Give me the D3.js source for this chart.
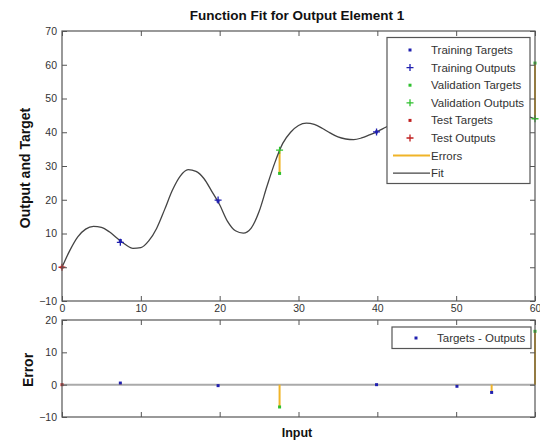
<!DOCTYPE html>
<html lang="en">
<head>
<meta charset="UTF-8">
<title>Function Fit</title>
<script src="https://cdn.jsdelivr.net/npm/d3@7"></script>
<style>
  body { margin: 0; background: #fff; }
  svg { font-family: "Liberation Sans", Arial, sans-serif; }
  .axis text { font-size: 10.5px; fill: #333; }
  .axis line { stroke: #555; }
  .axis path { stroke: none; }
  .frame { fill: none; stroke: #555; stroke-width: 1.2; }
  .lbl { font-weight: bold; fill: #111; }
  .leg text { font-size: 11.5px; fill: #333; }
</style>
</head>
<body>
<svg id="chart" width="540" height="441"></svg>
<script>
// fit curve
var fitX = [0,1,2,3,4,5,6,7,8,9,10,11,12,13,14,15,16,17,18,19,20,21,22,23,24,25,26,27,28,29,30,
            31,32,33,34,35,36,37,38,39,40,41,42,43,44,45,46,47,48,49,50,51,52,53,54,55,56,57,58,59,60];
var fitY = [0,5,9,11.3,12.1,11.8,10.5,8.6,6.8,5.6,5.8,7.8,11.5,17,22.8,27,28.9,28.4,26.3,22.5,18.5,13.6,10.8,10.1,11.6,16.5,24,31,36.7,40,42,
            42.7,42.3,41.2,39.8,38.6,38,37.8,38.3,39.2,40.2,41.4,42.6,43.8,45,46,46.9,47.6,48.1,48.5,48.8,49,49,48.8,48.5,48,47.3,46.5,45.6,44.8,44];

// samples
var trainX = [7.4, 19.8, 39.9, 50.1, 54.5];
var trainTargets = [7.9, 19.6, 40.1, 48.3, 46.0];
var trainOutputs = [7.4, 19.9, 40.1, 48.8, 48.4];

var valX = [27.6, 60];
var valTargets = [27.8, 60.5];
var valOutputs = [34.7, 44];

var testX = [0];
var testTargets = [0];
var testOutputs = [0];

var xTicks = [0, 10, 20, 30, 40, 50, 60];
var yTicksTop = [-10, 0, 10, 20, 30, 40, 50, 60, 70];
var yTicksBottom = [-10, 0, 10, 20];

var legendTop = ["Training Targets", "Training Outputs", "Validation Targets", "Validation Outputs",
                 "Test Targets", "Test Outputs", "Errors", "Fit"];

var cBlue = "#2020b0", cGreen = "#2ec02e", cRed = "#c02020", cOrange = "#f0b428", cFit = "#444";

var svg = d3.select("#chart");

var L = 62, R = 535;
var x = d3.scaleLinear().domain([0, 60]).range([L, R]);
var yTop = d3.scaleLinear().domain([-10, 70]).range([301, 31]);
var yBot = d3.scaleLinear().domain([-10, 20]).range([417, 320]);

function frame(y) {
  var r = y.range();
  // ticks inward on four sides
  svg.append("g").attr("class", "axis").attr("transform", "translate(0," + r[0] + ")")
    .call(d3.axisBottom(x).tickValues(xTicks).tickSizeInner(-5).tickSizeOuter(0).tickPadding(4)
      .tickFormat(y === yTop ? d3.format("d") : ""));
  svg.append("g").attr("class", "axis").attr("transform", "translate(0," + r[1] + ")")
    .call(d3.axisTop(x).tickValues(xTicks).tickSizeInner(-5).tickSizeOuter(0).tickFormat(""));
  svg.append("g").attr("class", "axis").attr("transform", "translate(" + L + ",0)")
    .call(d3.axisLeft(y).tickValues(y === yTop ? yTicksTop : yTicksBottom)
      .tickSizeInner(-5).tickSizeOuter(0).tickPadding(5));
  svg.append("g").attr("class", "axis").attr("transform", "translate(" + R + ",0)")
    .call(d3.axisRight(y).tickValues(y === yTop ? yTicksTop : yTicksBottom)
      .tickSizeInner(-5).tickSizeOuter(0).tickFormat(""));
}

function plus(g, cx, cy, color) {
  g.append("path")
    .attr("d", "M" + (cx - 3.5) + "," + cy + "H" + (cx + 3.5) + "M" + cx + "," + (cy - 3.5) + "V" + (cy + 3.5))
    .attr("stroke", color).attr("stroke-width", 1.3).attr("fill", "none");
}
function dot(g, cx, cy, color) {
  g.append("rect").attr("x", cx - 1.5).attr("y", cy - 1.5).attr("width", 3).attr("height", 3)
    .attr("fill", color);
}

var sets = [
  { xs: trainX, t: trainTargets, o: trainOutputs, color: cBlue },
  { xs: valX, t: valTargets, o: valOutputs, color: cGreen },
  { xs: testX, t: testTargets, o: testOutputs, color: cRed }
];

// ---------- top plot ----------
var gTop = svg.append("g");

sets.forEach(function (s) {
  s.xs.forEach(function (xv, i) {
    gTop.append("line")
      .attr("x1", x(xv)).attr("x2", x(xv))
      .attr("y1", yTop(s.t[i])).attr("y2", yTop(s.o[i]))
      .attr("stroke", cOrange).attr("stroke-width", 2);
  });
});

var line = d3.line().x(function (d, i) { return x(fitX[i]); })
  .y(function (d) { return yTop(d); }).curve(d3.curveMonotoneX);
gTop.append("path").datum(fitY).attr("d", line)
  .attr("fill", "none").attr("stroke", cFit).attr("stroke-width", 1.3);

sets.forEach(function (s) {
  s.xs.forEach(function (xv, i) {
    dot(gTop, x(xv), yTop(s.t[i]), s.color);
    plus(gTop, x(xv), yTop(s.o[i]), s.color);
  });
});

frame(yTop);
svg.append("rect").attr("class", "frame").attr("x", L).attr("y", 31).attr("width", R - L).attr("height", 270);

// legend top
var lg = svg.append("g").attr("class", "leg");
lg.append("rect").attr("x", 387).attr("y", 37.5).attr("width", 143).attr("height", 146)
  .attr("fill", "#fff").attr("stroke", "#555").attr("stroke-width", 1.2);
var legColors = [cBlue, cBlue, cGreen, cGreen, cRed, cRed];
legendTop.forEach(function (name, i) {
  var cy = 50 + i * 17.6;
  if (i < 6) {
    if (i % 2 === 0) dot(lg, 410, cy, legColors[i]);
    else plus(lg, 410, cy, legColors[i]);
  } else {
    lg.append("line").attr("x1", 393).attr("x2", 430).attr("y1", cy).attr("y2", cy)
      .attr("stroke", i === 6 ? cOrange : cFit).attr("stroke-width", i === 6 ? 2 : 1.3);
  }
  lg.append("text").attr("x", 431).attr("y", cy + 4).text(name);
});

// ---------- bottom plot ----------
var gBot = svg.append("g");
gBot.append("line").attr("x1", L).attr("x2", R).attr("y1", yBot(0)).attr("y2", yBot(0))
  .attr("stroke", "#aaa").attr("stroke-width", 2);

sets.forEach(function (s) {
  s.xs.forEach(function (xv, i) {
    var e = s.t[i] - s.o[i];
    gBot.append("line").attr("x1", x(xv)).attr("x2", x(xv))
      .attr("y1", yBot(0)).attr("y2", yBot(e))
      .attr("stroke", cOrange).attr("stroke-width", 2);
  });
});
sets.forEach(function (s) {
  s.xs.forEach(function (xv, i) {
    dot(gBot, x(xv), yBot(s.t[i] - s.o[i]), s.color);
  });
});

frame(yBot);
svg.append("rect").attr("class", "frame").attr("x", L).attr("y", 320).attr("width", R - L).attr("height", 97);

var lb = svg.append("g").attr("class", "leg");
lb.append("rect").attr("x", 392).attr("y", 327).attr("width", 139).attr("height", 21.5)
  .attr("fill", "#fff").attr("stroke", "#555").attr("stroke-width", 1.2);
dot(lb, 416, 338, cBlue);
lb.append("text").attr("x", 437).attr("y", 342).text("Targets - Outputs");

// ---------- labels ----------
svg.append("text").attr("class", "lbl").attr("x", 297).attr("y", 20).style("font-size", "13.5px")
  .attr("text-anchor", "middle").text("Function Fit for Output Element 1");
svg.append("text").attr("class", "lbl").attr("text-anchor", "middle").style("font-size", "14px")
  .attr("transform", "translate(30,168) rotate(-90)").text("Output and Target");
svg.append("text").attr("class", "lbl").attr("text-anchor", "middle").style("font-size", "14px")
  .attr("transform", "translate(33,370) rotate(-90)").text("Error");
svg.append("text").attr("class", "lbl").attr("x", 297).attr("y", 437).style("font-size", "12.5px")
  .attr("text-anchor", "middle").text("Input");
</script>
</body>
</html>
